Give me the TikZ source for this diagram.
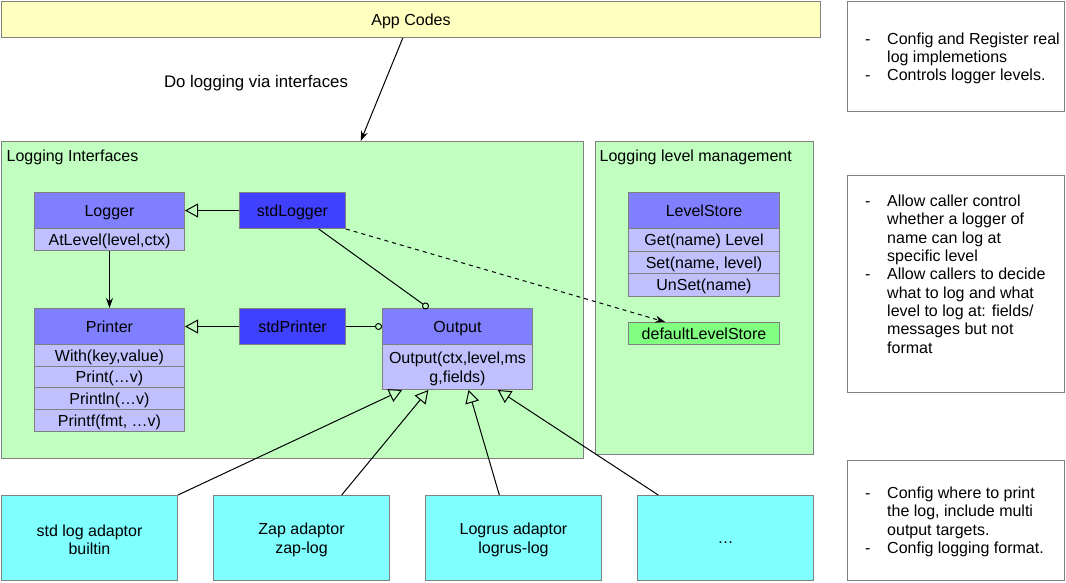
\documentclass[tikz,border=0pt]{standalone}
\usepackage{fontspec}
\setmainfont{Liberation Sans}
\usetikzlibrary{arrows.meta,calc}
\definecolor{appyellow}{HTML}{FFFFC0}
\definecolor{pkggreen}{HTML}{C0FFC0}
\definecolor{hdrblue}{HTML}{8080FF}
\definecolor{rowblue}{HTML}{C0C0FF}
\definecolor{stdblue}{HTML}{4040FF}
\definecolor{adcyan}{HTML}{80FFFF}
\definecolor{dlsgreen}{HTML}{80FF80}
\definecolor{bordergray}{HTML}{808080}
\newcommand{\fsz}{\fontsize{16}{18.4}\selectfont}
\tikzset{
  box/.style={draw=bordergray, line width=1pt, inner sep=0pt, anchor=north west, font=\fsz, align=center},
  one/.style={text height=13.5pt, text depth=2pt},
  mltext/.style={inner sep=0pt, font=\fsz, align=center, yshift=-2pt},
  lbl/.style={inner sep=0pt, font=\fsz, anchor=base west},
  conn/.style={draw=black, line width=1pt},
  inherit/.style={conn, -{Triangle[open, length=13pt, width=14pt]}},
  circ/.style={conn, -{Circle[open, length=7pt]}},
  solidarrow/.style={conn, -{Stealth[length=10pt, width=7pt]}},
}
\begin{document}
\begin{tikzpicture}[x=1pt, y=-1pt]
\useasboundingbox (0,0) rectangle (1066,582);
% top
\node[box, one, fill=appyellow, minimum width=819pt, minimum height=36pt] (app) at (1,1) {App Codes};
% containers
\node[box, fill=pkggreen, minimum width=582pt, minimum height=317pt] (logif) at (1,141) {};
\node[box, fill=pkggreen, minimum width=218pt, minimum height=313pt] (lvlmgmt) at (595,141) {};
\node[lbl] (logiflbl) at (6.5,161) {Logging Interfaces};
\node[lbl] (lvlmgmtlbl) at (599.5,161) {Logging level management};
\node[inner sep=0pt, font=\fontsize{16.8}{19}\selectfont, text height=13.5pt, text depth=2pt] (dolog) at (256,82) {Do logging via interfaces};
% Logger
\node[box, one, fill=hdrblue, minimum width=150pt, minimum height=36pt] (logger) at (34,192) {Logger};
\node[box, one, fill=rowblue, minimum width=150pt, minimum height=22pt] (loggerat) at (34,228) {AtLevel(level,ctx)};
\node[box, one, fill=stdblue, minimum width=106pt, minimum height=36pt] (stdlogger) at (239,192) {stdLogger};
% Printer
\node[box, one, fill=hdrblue, minimum width=150pt, minimum height=36pt] (printer) at (34,308) {Printer};
\node[box, one, fill=rowblue, minimum width=150pt, minimum height=22pt] (pwith) at (34,344) {With(key,value)};
\node[box, one, fill=rowblue, minimum width=150pt, minimum height=21pt] (pprint) at (34,366) {Print(…v)};
\node[box, one, fill=rowblue, minimum width=150pt, minimum height=22pt] (pprintln) at (34,387) {Println(…v)};
\node[box, one, fill=rowblue, minimum width=150pt, minimum height=22pt] (pprintf) at (34,409) {Printf(fmt, …v)};
\node[box, one, fill=stdblue, minimum width=106pt, minimum height=36pt] (stdprinter) at (239,308) {stdPrinter};
% Output
\node[box, one, fill=hdrblue, minimum width=150pt, minimum height=36pt] (output) at (382,308) {Output};
\node[box, fill=rowblue, minimum width=150pt, minimum height=45pt] (outbody) at (382,344) {};
\node[mltext] (outbodytxt) at (outbody.center) {Output(ctx,level,ms\\g,fields)};
% LevelStore
\node[box, one, fill=hdrblue, minimum width=151pt, minimum height=36pt] (lstore) at (628,192) {LevelStore};
\node[box, one, fill=rowblue, minimum width=151pt, minimum height=22.5pt] (lget) at (628,228) {Get(name) Level};
\node[box, one, fill=rowblue, minimum width=151pt, minimum height=22.5pt] (lset) at (628,250.5) {Set(name, level)};
\node[box, one, fill=rowblue, minimum width=151pt, minimum height=22.5pt] (lunset) at (628,273) {UnSet(name)};
\node[box, one, fill=dlsgreen, minimum width=151pt, minimum height=22pt] (dls) at (628,322) {defaultLevelStore};
% adaptors
\node[box, fill=adcyan, minimum width=176pt, minimum height=85pt] (adstd) at (1,495) {};
\node[mltext] (adstdtxt) at (adstd.center) {std log adaptor\\builtin};
\node[box, fill=adcyan, minimum width=176pt, minimum height=85pt] (adzap) at (213,495) {};
\node[mltext] (adzaptxt) at (adzap.center) {Zap adaptor\\zap-log};
\node[box, fill=adcyan, minimum width=176pt, minimum height=85pt] (adlogrus) at (425,495) {};
\node[mltext] (adlogrustxt) at (adlogrus.center) {Logrus adaptor\\logrus-log};
\node[box, one, fill=adcyan, minimum width=176pt, minimum height=85pt] (admore) at (637,495) {…};
% notes
\node[box, fill=white, minimum width=217pt, minimum height=110pt] (note1) at (847,1) {};
\node[box, fill=white, minimum width=217pt, minimum height=217pt] (note2) at (847,175) {};
\node[box, fill=white, minimum width=217pt, minimum height=120pt] (note3) at (847,460) {};
\node[lbl] (n1d1) at (865,44) {-};
\node[lbl] (n1d2) at (865,80.8) {-};
\foreach \t [count=\i] in {{Config and Register real},{log implemetions},{Controls logger levels.}}
  \node[lbl] (n1l\i) at (887,{44+(\i-1)*18.4}) {\t};
\node[lbl] (n2d1) at (865,206.5) {-};
\node[lbl] (n2d2) at (865,279.9) {-};
\foreach \t [count=\i] in {{Allow caller control},{whether a logger of},{name can log at},{specific level},{Allow callers to decide},{what to log and what},{level to log at: fields/},{messages but not},{format}}
  \node[lbl] (n2l\i) at (887,{206.5+(\i-1)*18.35}) {\t};
\node[lbl] (n3d1) at (865,498.5) {-};
\node[lbl] (n3d2) at (865,553.7) {-};
\foreach \t [count=\i] in {{Config where to print},{the log, include multi},{output targets.},{Config logging format.}}
  \node[lbl] (n3l\i) at (887,{498.5+(\i-1)*18.4}) {\t};
% connectors
\draw[solidarrow] ($(app.south west)!0.49!(app.south east)$) -- ($(logif.north west)!0.617!(logif.north east)$);
\draw[inherit] (stdlogger.west) -- (logger.east);
\draw[inherit] (stdprinter.west) -- (printer.east);
\draw[solidarrow] (loggerat.south) -- (printer.north);
\draw[circ] (stdprinter.east) -- (output.west);
\draw[circ] ($(stdlogger.south west)!0.745!(stdlogger.south east)$) -- ($(output.north west)!0.307!(output.north east)$);
\draw[conn, dashed, dash pattern=on 4pt off 4pt, -{Stealth[length=10pt, width=7pt]}] (stdlogger.south east) -- ($(dls.north west)!0.245!(dls.north east)$);
\draw[inherit] (adstd.north east) -- ($(outbody.south west)!0.133!(outbody.south east)$);
\draw[inherit] ($(adzap.north west)!0.727!(adzap.north east)$) -- ($(outbody.south west)!0.307!(outbody.south east)$);
\draw[inherit] ($(adlogrus.north west)!0.42!(adlogrus.north east)$) -- ($(outbody.south west)!0.573!(outbody.south east)$);
\draw[inherit] ($(admore.north west)!0.12!(admore.north east)$) -- ($(outbody.south west)!0.767!(outbody.south east)$);
\end{tikzpicture}
\end{document}
